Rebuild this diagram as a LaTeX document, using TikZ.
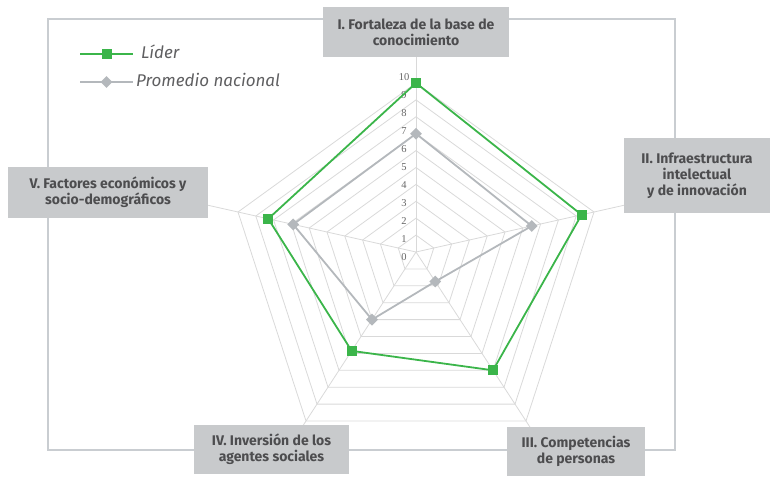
\documentclass[tikz,border=0pt]{standalone}
\usepackage{fontspec}
\setmainfont{Fira Sans}
\newfontfamily\numfont{Liberation Serif}
\usepackage{tikz}
\usetikzlibrary{calc, positioning, shapes.geometric}
\definecolor{LID}{HTML}{3BB54A}
\definecolor{PRO}{HTML}{B4B8BC}
\definecolor{GRD}{HTML}{D9D9D9}
\definecolor{FRM}{HTML}{C9CDD1}
\definecolor{AXF}{HTML}{C8CACC}
\definecolor{AXT}{HTML}{4D4D4F}
\tikzset{
  AXL/.style={% Style for the grey axis title boxes
      rectangle, inner sep=0pt,
      align=center,
      fill=AXF,
      text=AXT,
      font=\fontsize{14}{16}\selectfont\bfseries,
  },
  LID/.style={% Style for the leader line
      draw=LID, line width=1.8pt, line join=miter,
  },
  PRO/.style={% Style for the national average line
      draw=PRO, line width=1.8pt, line join=miter,
  },
  LIDsq/.style={% square marker
      rectangle, fill=LID, inner sep=0pt, minimum size=10pt,
  },
  PROdia/.style={% diamond marker
      diamond, fill=PRO, inner sep=0pt, minimum size=12pt,
  },
  GRD/.style={draw=GRD, line width=0.8pt},
  SCL/.style={font=\numfont\fontsize{10.5}{10.5}\selectfont, text=black!60, inner sep=0pt},
  LEG/.style={font=\fontsize{17}{20}\selectfont\itshape, text=AXT!90, inner sep=0pt, anchor=west},
}
\def\series#1#2#3{%
  % #1 line style, #2 marker style, #3 values on the five axes
  \foreach \val [count=\i] in {#3} {%
      \coordinate (#1\i) at ($(ctr)!\val/10!(v\i)$);
  }
  \draw[#1] (#11) -- (#12) -- (#13) -- (#14) -- (#15) -- cycle;
  \foreach \i in {1,...,5} {%
      \node[#2] (#1m\i) at (#1\i) {};
  }
}

\begin{document}
\begin{tikzpicture}[x=1pt, y=-1pt]
    \useasboundingbox (0,0) rectangle (770,476);
    % frame of the chart
    \draw[draw=FRM, line width=1.2pt] (48,19) rectangle (675,450);
    % centre and the ends of the five axes (value 10)
    \coordinate (ctr) at (416,252);
    \coordinate (v1) at (416,83);
    \coordinate (v2) at (594,212);
    \coordinate (v3) at (526,421);
    \coordinate (v4) at (306,421);
    \coordinate (v5) at (238,212);
    % rings and spokes
    \foreach \k in {1,...,10} {%
        \draw[GRD] ($(ctr)!\k/10!(v1)$) -- ($(ctr)!\k/10!(v2)$) -- ($(ctr)!\k/10!(v3)$)
            -- ($(ctr)!\k/10!(v4)$) -- ($(ctr)!\k/10!(v5)$) -- cycle;
    }
    \foreach \i in {1,...,5} {%
        \draw[GRD] (ctr) -- ($(ctr)!1.3!(v\i)$);
    }
    % scale
    \foreach \k in {0,...,10} {%
        \node[SCL] (s\k) at (404,{257-18*\k}) {\k};
    }
    % data
    \series{PRO}{PROdia}{7.0, 6.5, 1.75, 4.0, 6.9}
    \series{LID}{LIDsq}{10, 9.3, 7.0, 5.85, 8.3}
    % axis titles
    \node[AXL, minimum width=186pt, minimum height=50pt] (ax1) at (416,32)
        {I. Fortaleza de la base de\\conocimiento};
    \node[AXL, minimum width=146pt, minimum height=75pt] (ax2) at (697,175.5)
        {II. Infraestructura\\intelectual\\y de innovación};
    \node[AXL, minimum width=138pt, minimum height=49pt] (ax3) at (576,451.5)
        {III. Competencias\\de personas};
    \node[AXL, minimum width=155pt, minimum height=49pt] (ax4) at (271.5,449.5)
        {IV. Inversión de los\\agentes sociales};
    \node[AXL, minimum width=200pt, minimum height=51pt] (ax5) at (108,192.5)
        {V. Factores económicos y\\socio-demográficos};
    % legend
    \coordinate (lgA) at (80,54);
    \coordinate (lgB) at (133,54);
    \coordinate (lgC) at (80,82);
    \coordinate (lgD) at (133,82);
    \draw[LID] (lgA) -- (lgB);
    \draw[PRO] (lgC) -- (lgD);
    \node[LIDsq] (lgsq) at ($(lgA)!0.5!(lgB)$) {};
    \node[PROdia] (lgdia) at ($(lgC)!0.5!(lgD)$) {};
    \node[LEG] (lg1) at (141,52) {Líder};
    \node[LEG] (lg2) at (136,80) {Promedio nacional};
\end{tikzpicture}
\end{document}
